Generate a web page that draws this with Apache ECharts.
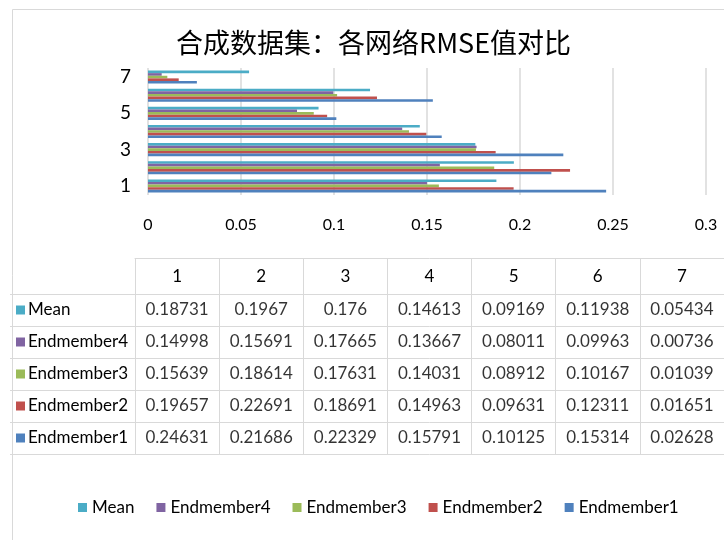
<!DOCTYPE html>
<html>
<head>
<meta charset="utf-8">
<script src="https://cdn.jsdelivr.net/npm/echarts@6/dist/echarts.min.js"></script>
<style>
  html, body { margin: 0; padding: 0; background: #fff; }
  #main { width: 724px; height: 540px; }
</style>
</head>
<body>
<div id="main"></div>
<script>
var categories = ['1', '2', '3', '4', '5', '6', '7'];
var endmember1 = [0.24631, 0.21686, 0.22329, 0.15791, 0.10125, 0.15314, 0.02628];
var endmember2 = [0.19657, 0.22691, 0.18691, 0.14963, 0.09631, 0.12311, 0.01651];
var endmember3 = [0.15639, 0.18614, 0.17631, 0.14031, 0.08912, 0.10167, 0.01039];
var endmember4 = [0.14998, 0.15691, 0.17665, 0.13667, 0.08011, 0.09963, 0.00736];
var meanVals   = [0.18731, 0.1967, 0.176, 0.14613, 0.09169, 0.11938, 0.05434];
// first series is drawn at the top of each group
var seriesNames = ['Mean', 'Endmember4', 'Endmember3', 'Endmember2', 'Endmember1'];
var tableRows = ['Mean', 'Endmember4', 'Endmember3', 'Endmember2', 'Endmember1'];
var xTicks = [0, 0.05, 0.1, 0.15, 0.2, 0.25, 0.3];

var colors = {
    Endmember1: '#4F81BD',
    Endmember2: '#C0504D',
    Endmember3: '#9BBB59',
    Endmember4: '#8064A2',
    Mean: '#4BACC6'
};
var valuesByName = {
    Endmember1: endmember1,
    Endmember2: endmember2,
    Endmember3: endmember3,
    Endmember4: endmember4,
    Mean: meanVals
};

var FONT = 'Lato';
var GRID_LINE = '#d9d9d9';

var myChart = echarts.init(document.getElementById('main'));

// bars
var series = seriesNames.map(function(name) {
    return {
        name: name,
        type: 'bar',
        xAxisIndex: 0,
        yAxisIndex: 0,
        barGap: 0,
        barCategoryGap: '28%',
        itemStyle: { color: colors[name] },
        data: valuesByName[name],
        silent: true
    };
});

// data table cells, drawn as labels on a category grid
var cells = [];
tableRows.forEach(function(row) {
    valuesByName[row].forEach(function(v, i) {
        cells.push([categories[i], row, v]);
    });
});
series.push({
    type: 'scatter',
    xAxisIndex: 1,
    yAxisIndex: 1,
    symbolSize: 0,
    silent: true,
    label: {
        show: true,
        position: 'inside',
        color: '#000',
        fontFamily: FONT,
        fontSize: 17,
        formatter: function(p) { return String(p.value[2]); }
    },
    data: cells
});

// rich styles for the coloured key squares in the table row labels
var rich = { name: { fontFamily: FONT, fontSize: 17, color: '#000', padding: [0, 0, 0, 3] } };
tableRows.forEach(function(row) {
    rich['k' + row] = { backgroundColor: colors[row], width: 9, height: 9 };
});

var option = {
    backgroundColor: '#fff',
    animation: false,
    color: seriesNames.map(function(n) { return colors[n]; }),
    title: {
        text: '合成数据集：各网络RMSE值对比',
        left: 171,
        top: 24,
        textStyle: {
            fontFamily: 'Noto Sans CJK SC',
            fontSize: 27,
            fontWeight: 'normal',
            color: '#000'
        }
    },
    legend: {
        data: ['Mean', 'Endmember4', 'Endmember3', 'Endmember2', 'Endmember1'],
        left: 73,
        top: 494,
        icon: 'rect',
        itemWidth: 9,
        itemHeight: 9,
        itemGap: 22,
        textStyle: { fontFamily: FONT, fontSize: 17, color: '#000' },
        selectedMode: false
    },
    graphic: [{
        type: 'rect',
        left: 10,
        top: 7,
        shape: { width: 760, height: 560 },
        style: { fill: 'none', stroke: GRID_LINE, lineWidth: 1 },
        silent: true,
        z: -1
    }],
    grid: [
        { left: 148, right: 18, top: 68, bottom: 345 },
        { left: 135, width: 595, top: 294, height: 160 }
    ],
    xAxis: [{
        gridIndex: 0,
        type: 'value',
        min: xTicks[0],
        max: xTicks[xTicks.length - 1],
        interval: 0.05,
        axisLine: { show: false },
        axisTick: { show: false },
        axisLabel: { fontFamily: FONT, fontSize: 16, color: '#000', margin: 22 },
        splitLine: { lineStyle: { color: GRID_LINE, width: 1.5 } }
    }, {
        gridIndex: 1,
        type: 'category',
        position: 'top',
        data: categories,
        axisLine: { show: true, lineStyle: { color: GRID_LINE } },
        axisTick: { show: true, length: 36, lineStyle: { color: GRID_LINE } },
        axisLabel: { fontFamily: FONT, fontSize: 17, color: '#000', margin: 9 },
        splitLine: { show: true, lineStyle: { color: GRID_LINE } }
    }, {
        gridIndex: 1,
        type: 'category',
        position: 'top',
        offset: 36,
        data: categories,
        axisLine: { show: true, lineStyle: { color: GRID_LINE } },
        axisTick: { show: false },
        axisLabel: { show: false }
    }],
    yAxis: [{
        gridIndex: 0,
        type: 'category',
        data: categories,
        axisLine: { show: false },
        axisTick: { show: false },
        axisLabel: { interval: 1, fontFamily: FONT, fontSize: 19, color: '#000', margin: 17 }
    }, {
        gridIndex: 1,
        type: 'category',
        inverse: true,
        data: tableRows,
        axisLine: { show: true, lineStyle: { color: GRID_LINE } },
        axisTick: { show: true, length: 125, lineStyle: { color: GRID_LINE } },
        splitLine: { show: true, lineStyle: { color: GRID_LINE } },
        axisLabel: {
            align: 'left',
            margin: 119,
            formatter: function(v) { return '{k' + v + '|}{name|' + v + '}'; },
            rich: rich
        }
    }],
    series: series
};

myChart.setOption(option);
</script>
</body>
</html>
